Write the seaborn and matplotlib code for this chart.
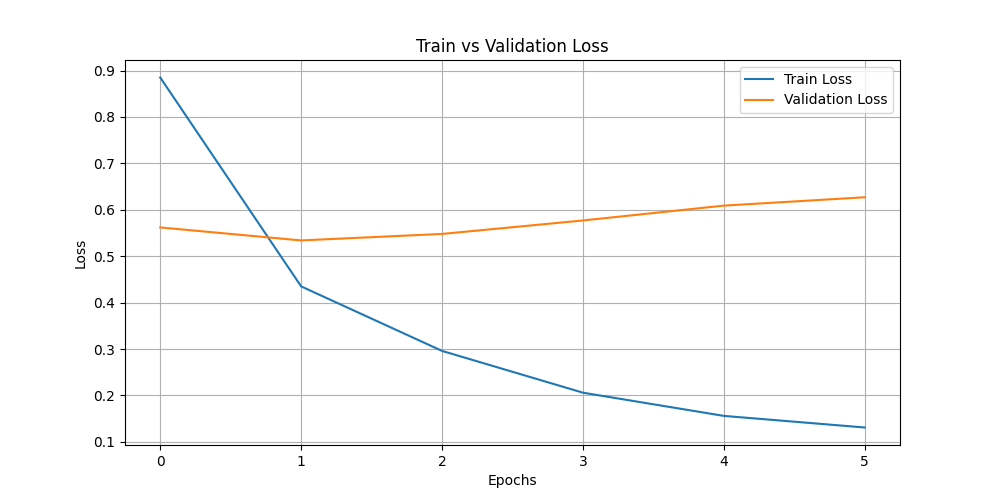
import pandas as pd
import numpy as np
import seaborn as sns
import matplotlib
matplotlib.use("Agg")
import matplotlib.pyplot as plt

# loss values
epochs = [0, 1, 2, 3, 4, 5]
train_loss = [0.885, 0.435, 0.296, 0.206, 0.156, 0.131]
val_loss = [0.562, 0.534, 0.548, 0.577, 0.609, 0.627]

df = pd.DataFrame({"epoch": epochs + epochs,
                   "loss": train_loss + val_loss,
                   "kind": ["Train Loss"] * len(epochs) + ["Validation Loss"] * len(epochs)})

plt.figure(figsize=(10, 5), dpi=100)
ax = sns.lineplot(data=df, x="epoch", y="loss", hue="kind",
                  palette=["#1f77b4", "#ff7f0e"], linewidth=1.5)
ax.set_title("Train vs Validation Loss")
ax.set_xlabel("Epochs")
ax.set_ylabel("Loss")
ax.grid(True)
ax.legend(title=None, loc="upper right")
plt.savefig("out.png")
